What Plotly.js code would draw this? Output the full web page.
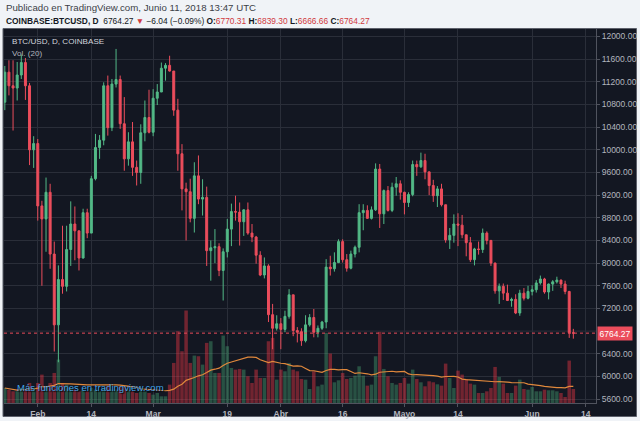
<!DOCTYPE html>
<html><head><meta charset="utf-8">
<script src="https://cdn.plot.ly/plotly-3.0.1.min.js"></script>
<style>html,body{margin:0;padding:0;background:#f0f3f7;} #chart{width:640px;height:421px;}</style>
</head><body><div id="chart"></div>
<script>
// Daily candles, COINBASE BTC/USD, starting 2018-01-24 (one per day)
const startDate = '2018-01-24';
const opens = [10840,11370,11130,11090,11320,11540,11130,10000,10110,9010,8780,9250,8160,6910,7710,7590,8240,8690,8570,8090,8890,8530,9490,10040,10170,11130,10390,11160,11240,10460,9840,10140,9690,9600,10300,10570,
10310,10910,11020,11440,11490,11390,10700,9930,9310,9260,8790,9540,9130,9160,8220,8270,8290,7870,8200,8600,8910,8900,8730,8940,8530,8460,8140,7790,7950,7090,6850,
6930,6830,7060,7440,6810,6790,6630,6910,7040,6780,6850,6960,7930,7900,8010,8380,8060,7910,8160,8280,8890,8930,8790,8940,9660,8870,9280,8930,9340,9400,
9250,9070,9210,9740,9700,9810,9610,9370,9190,9310,9030,8410,8490,8690,8670,8500,8360,8060,8250,8240,8530,8400,8000,7510,7590,7470,7340,7360,7120,7470,7380,
7500,7530,7650,7720,7490,7630,7670,7700,7630,7500,6770.31];
const highs = [11480,11580,11580,11550,11680,11620,11180,10240,10190,9100,9510,9400,8380,7960,8660,8660,9090,9000,8570,8960,8960,9540,10280,10260,11190,11310,11250,11780,11310,10930,10310,10490,9810,10450,10870,11060,
11070,11160,11540,11530,11660,11390,10900,10100,9420,9490,9780,9900,9480,9350,8400,8600,8350,8260,8780,9050,9190,9070,8950,9070,8690,8480,8210,8100,7980,7280,7080,
7030,7160,7540,7440,6870,6850,7080,7100,7190,6900,6980,8070,8130,8190,8420,8420,8160,8220,8310,9040,9040,9020,9000,9760,9750,9300,9360,9420,9520,9460,
9260,9250,9810,9810,9950,9930,9620,9470,9360,9400,9030,8620,8860,8880,8850,8500,8460,8270,8380,8610,8560,8410,8010,7640,7640,7620,7390,7450,7530,7560,7600,
7610,7700,7780,7740,7640,7700,7760,7710,7690,7510,6839.30];
const lows = [10700,10960,10340,10870,11250,10880,9730,9680,8750,7600,8200,7900,6440,6250,7460,7500,7950,8050,7870,8080,8440,8530,9460,9840,10080,10250,10330,11100,10370,9630,9720,9540,9370,9400,10150,10290,
10240,10790,11020,11220,11380,10600,9630,8930,8400,8720,8540,9040,8840,7950,7690,8000,7770,7340,8100,8300,8750,8310,8480,8500,8370,7990,7770,7730,6960,6480,6810,
6480,6780,7020,6710,6600,6540,6600,6880,6690,6690,6820,6850,7780,7850,8000,8010,7850,7890,8100,8190,8580,8780,8770,8920,8620,8690,8910,8900,9190,9120,
8860,8990,9180,9540,9680,9480,9200,9080,8990,9000,8360,8250,8360,8300,8440,8120,8020,7960,8150,8180,8330,7950,7460,7280,7350,7330,7230,7100,7070,7340,7360,
7430,7480,7620,7460,7360,7510,7640,7560,7450,6680,6666.66];
const closes = [11370,11130,11090,11320,11540,11130,10000,10110,9010,8780,9250,8160,6910,7710,7590,8240,8690,8570,8090,8890,8530,9490,10040,10170,11130,10390,11160,11240,10460,9840,10140,9690,9600,10300,10570,10310,
10910,11020,11440,11490,11390,10700,9930,9310,9260,8790,9540,9130,9160,8220,8270,8290,7870,8200,8600,8910,8900,8730,8940,8530,8460,8140,7790,7950,7090,6850,6930,
6830,7060,7440,6810,6780,6630,6910,7040,6780,6850,6960,7930,7900,8010,8380,8060,7910,8160,8280,8890,8930,8790,8940,9660,8870,9280,8930,9340,9400,9250,
9070,9210,9740,9700,9810,9610,9370,9190,9310,9030,8410,8490,8690,8670,8500,8360,8060,8250,8240,8530,8400,8000,7510,7590,7470,7340,7360,7120,7470,7380,7500,
7530,7650,7720,7490,7630,7670,7700,7630,7500,6770.31,6764.27];
const volumes = [4500,4000,3500,3500,4500,4000,6000,4000,6000,8500,5000,6000,9000,13000,6000,5500,4500,4000,3500,4000,3500,4500,4000,3500,4500,5000,4000,4000,5000,5000,4000,3500,3000,4000,3500,3000,
2500,3000,2000,2000,5500,12000,21500,15500,27700,12000,14200,14000,11500,18000,18500,9000,9000,20200,17000,10500,10000,10200,10000,8000,6000,10000,7500,7500,18500,19500,7000,
10000,9500,12000,10000,9500,7200,7000,4200,9500,5000,5500,21000,14800,6200,6800,9000,7200,7500,8200,11000,8200,5200,5500,14000,21300,10200,8000,6000,5500,6000,
7500,5800,10000,7200,6200,5000,6500,6200,5600,5200,11800,7500,4500,9700,8500,7200,5800,5500,3000,3000,3500,4500,10800,7800,5800,3000,3000,5200,7000,4200,4000,
4800,3500,3500,4000,3800,3800,3500,3000,1800,12700,4200];

const xTickVals = ['2018-02-01','2018-02-14','2018-03-01','2018-03-19','2018-04-01','2018-04-16','2018-05-01','2018-05-14','2018-06-01','2018-06-14'];
const xTickText = ['Feb','14','Mar','19','Abr','16','Mayo','14','Jun','14'];
// 6800.00 is hidden behind the last-price label in the reference
const yTickVals = [5600,6000,6400,7200,7600,8000,8400,8800,9200,9600,10000,10400,10800,11200,11600,12000];
const hiddenGridVal = 6800;
const lastPrice = 6764.27;
const maPeriod = 20;

// dates
const dates = [];
const t0 = Date.parse(startDate + 'T00:00:00Z');
for (let i = 0; i < opens.length; i++) {
  dates.push(new Date(t0 + i * 86400000).toISOString().slice(0, 10));
}
// volume moving average (20)
const volMA = volumes.map((v, i) => {
  const s = Math.max(0, i - maPeriod + 1);
  const w = volumes.slice(s, i + 1);
  return w.reduce((a, b) => a + b, 0) / w.length;
});
const UP = '#53b987', DN = '#eb4d5c';
const volColors = closes.map((c, i) => c >= opens[i] ? 'rgba(76,175,120,0.38)' : 'rgba(242,54,69,0.42)');

const traces = [
  {type: 'bar', x: dates, y: volumes, xaxis: 'x', yaxis: 'y', marker: {color: volColors, line: {width: 0}}, hoverinfo: 'skip'},
  {type: 'scatter', mode: 'lines', x: dates, y: volMA, xaxis: 'x', yaxis: 'y', line: {color: '#e0883c', width: 1.2}, hoverinfo: 'skip'},
  {type: 'candlestick', x: dates, open: opens, high: highs, low: lows, close: closes, xaxis: 'x', yaxis: 'y2',
   increasing: {line: {color: UP, width: 1}, fillcolor: UP},
   decreasing: {line: {color: DN, width: 1}, fillcolor: DN},
   whiskerwidth: 0, hoverinfo: 'skip'}
];

const FF = 'Liberation Sans, Arial, sans-serif';
const axFont = {family: FF, size: 8.5, color: '#b2b5be'};
const px = x => (x - 4) / 592;
const py = y => (403 - y) / 374;

const layout = {
  width: 640, height: 421,
  margin: {l: 4, r: 44, t: 29, b: 18, pad: 0},
  paper_bgcolor: '#f0f3f7',
  plot_bgcolor: '#131722',
  showlegend: false,
  boxgap: 0.32,
  bargap: 0.15,
  xaxis: {type: 'date', range: ['2018-01-23 19:12', '2018-06-16 12:00'], tickmode: 'array', tickvals: xTickVals, ticktext: xTickText,
    showgrid: true, gridcolor: '#2a2e39', gridwidth: 1, showline: true, linecolor: '#50535e', ticks: 'outside', ticklen: 3, tickcolor: '#50535e',
    tickfont: Object.assign({}, axFont, {weight: 'bold'}), rangeslider: {visible: false}, zeroline: false, fixedrange: true},
  yaxis: {range: [0, 112000], visible: false, fixedrange: true, showgrid: false, zeroline: false},
  yaxis2: {overlaying: 'y', side: 'right', range: [5531, 12132], tickmode: 'array', tickvals: yTickVals, ticktext: yTickVals.map(v => v.toFixed(2)),
    showgrid: true, gridcolor: '#2a2e39', gridwidth: 1, showline: true, linecolor: '#50535e', ticks: 'outside', ticklen: 3, tickcolor: '#50535e',
    tickfont: axFont, zeroline: false, fixedrange: true},
  shapes: [
    {type: 'rect', xref: 'paper', yref: 'paper', x0: px(3), x1: px(636.5), y0: py(416.5), y1: py(28.5), fillcolor: '#131722', line: {color: '#5d606b', width: 1}, layer: 'below'},
    {type: 'line', xref: 'paper', yref: 'y2', x0: 0, x1: 1, y0: hiddenGridVal, y1: hiddenGridVal, line: {color: '#2a2e39', width: 1}, layer: 'below'},
    {type: 'line', xref: 'paper', yref: 'y2', x0: 0, x1: 1, y0: lastPrice, y1: lastPrice, line: {color: DN, width: 1, dash: 'dot'}, layer: 'above'}
  ],
  annotations: [
    {xref: 'paper', yref: 'paper', x: px(4), y: py(7.5), xanchor: 'left', yanchor: 'middle', showarrow: false,
     text: 'Publicado en TradingView.com, Junio 11, 2018 13:47 UTC', font: {family: FF, size: 9.7, color: '#3c3f47'}},
    {xref: 'paper', yref: 'paper', x: px(4), y: py(20.5), xanchor: 'left', yanchor: 'middle', showarrow: false,
     text: '<b>COINBASE:BTCUSD, D</b>  6764.27 <span style="color:#d0393e">▼</span> −6.04 (−0.09%) <b>O:</b><span style="color:#d0393e">6770.31</span> <b>H:</b><span style="color:#d0393e">6839.30</span> <b>L:</b><span style="color:#d0393e">6666.66</span> <b>C:</b><span style="color:#d0393e">6764.27</span>',
     font: {family: FF, size: 8.4, color: '#131722'}},
    {xref: 'paper', yref: 'paper', x: px(10), y: py(41.5), xanchor: 'left', yanchor: 'middle', showarrow: false,
     text: 'BTC/USD, D, COINBASE', font: {family: FF, size: 8.1, color: '#d1d4dc'}},
    {xref: 'paper', yref: 'paper', x: px(10), y: py(53.5), xanchor: 'left', yanchor: 'middle', showarrow: false,
     text: 'Vol. (20)', font: {family: FF, size: 8.1, color: '#b2b5be'}},
    {xref: 'paper', yref: 'paper', x: px(15), y: py(387), xanchor: 'left', yanchor: 'middle', showarrow: false,
     text: 'Más funciones en tradingview.com', font: {family: FF, size: 9.6, color: '#44a3e6', shadow: '1px 1px 1px #000'}},
    {xref: 'paper', yref: 'y2', x: 1, y: lastPrice, xanchor: 'left', yanchor: 'middle', xshift: 1, showarrow: false,
     text: '6764.27', bgcolor: DN, borderpad: 1.5, font: {family: FF, size: 8.5, color: '#ffffff'}}
  ]
};

Plotly.newPlot('chart', traces, layout, {staticPlot: true, displayModeBar: false});
</script></body></html>
